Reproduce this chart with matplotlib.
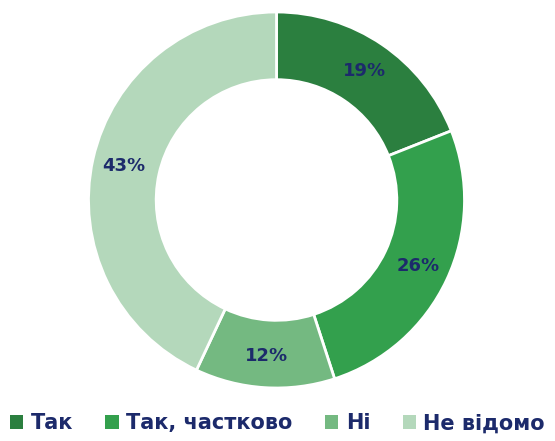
import matplotlib
matplotlib.use("Agg")
import matplotlib.pyplot as plt
import numpy as np

labels = ["Так", "Так, частково", "Ні", "Не відомо"]
values = [19, 26, 12, 43]
colors = ["#2b7f3f", "#33a04d", "#74b981", "#b4d8bb"]
text_color = "#1c2a6b"

plt.rcParams["font.family"] = ["DejaVu Sans"]

fig = plt.figure(figsize=(5.55, 4.41), dpi=100)
ax = fig.add_axes([88 / 555, 53 / 441, 377 / 555, 376 / 441])

wedges, texts = ax.pie(
    values, colors=colors, startangle=90, counterclock=False, radius=1.0,
    wedgeprops=dict(width=0.36, edgecolor="white", linewidth=2),
)
ax.set_xlim(-1.0, 1.0)
ax.set_ylim(-1.0, 1.0)
ax.set_aspect("equal")

for w, v in zip(wedges, values):
    ang = np.deg2rad((w.theta1 + w.theta2) / 2)
    r = 0.83
    ax.text(r * np.cos(ang), r * np.sin(ang), f"{v}%", ha="center", va="center",
            fontsize=13, fontweight="bold", color=text_color)

leg = fig.legend(wedges, labels, loc="lower center", bbox_to_anchor=(0.5, -0.025),
                 ncol=4, frameon=False, fontsize=15, handlelength=0.65, handleheight=0.65,
                 handletextpad=0.35, columnspacing=1.55)
for t in leg.get_texts():
    t.set_color(text_color)
    t.set_fontweight("bold")
for h in leg.legend_handles:
    h.set_edgecolor("none")

fig.savefig("out.png", dpi=100)
